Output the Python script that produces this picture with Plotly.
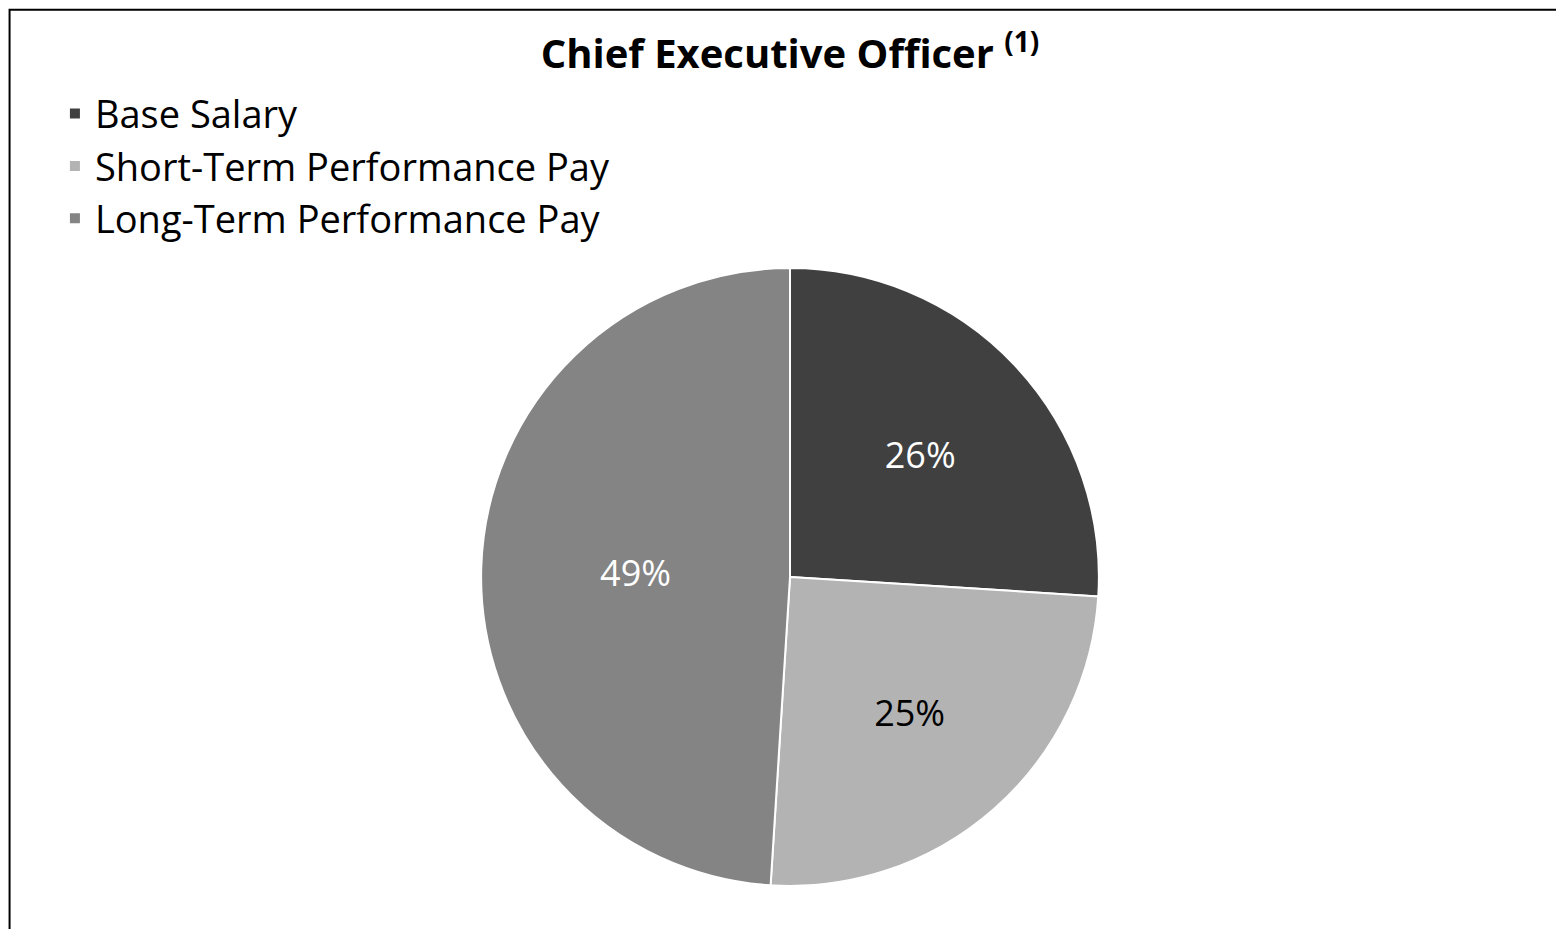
import plotly.graph_objects as go

labels = ["Base Salary", "Short-Term Performance Pay", "Long-Term Performance Pay"]
values = [26, 25, 49]
colors = ["#404040", "#b3b3b3", "#848484"]
text_colors = ["white", "black", "white"]

fig = go.Figure()
fig.add_trace(go.Pie(
    labels=labels,
    values=values,
    sort=False,
    direction="clockwise",
    rotation=0,
    marker=dict(colors=colors, line=dict(color="white", width=2)),
    textinfo="percent",
    textposition="inside",
    insidetextorientation="horizontal",
    textfont=dict(size=36, color=text_colors, family="Open Sans"),
    domain=dict(x=[0.302, 0.698], y=[0.055, 0.72]),
    hoverinfo="label+percent",
))

fig.update_layout(
    width=1564, height=929,
    margin=dict(l=0, r=0, t=0, b=0),
    paper_bgcolor="white",
    font=dict(family="Open Sans", color="black"),
    title=dict(text="<b>Chief Executive Officer <sup>(1)</sup></b>",
               x=0.5, xanchor="center", y=0.95, yanchor="middle",
               font=dict(size=40, color="black")),
    legend=dict(x=0.03, y=0.92, xanchor="left", yanchor="top",
                font=dict(size=38, color="black"), itemwidth=30),
    shapes=[dict(type="rect", xref="paper", yref="paper",
                 x0=0.001, y0=0.002, x1=0.998, y1=0.998,
                 line=dict(color="black", width=2))],
)

fig.write_html("out.html")
